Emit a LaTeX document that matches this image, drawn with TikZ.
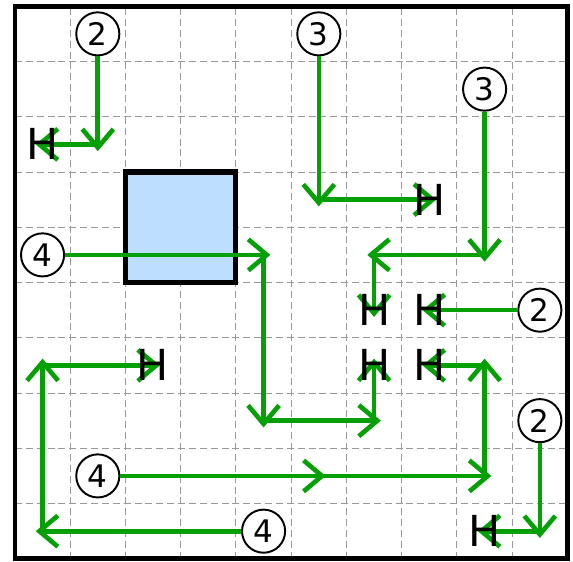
\documentclass[tikz,border=0pt]{standalone}
\usepackage{fontspec}
\setmainfont{DejaVu Sans}
\usetikzlibrary{arrows.meta}
\definecolor{pathgreen}{RGB}{5,160,5}
\definecolor{boxblue}{RGB}{190,222,255}
\begin{document}
\begin{tikzpicture}[x=1cm,y=1cm,
  gridline/.style={gray!80, line width=0.5pt, dash pattern=on 3.6pt off 2pt},
  flow/.style={pathgreen, line width=2.4pt, -{Straight Barb[length=9.5pt,width=16pt]}, shorten >=-3.5pt},
  numcirc/.style={circle, draw=black, fill=white, line width=1pt, minimum size=0.78cm, inner sep=0pt, font=\fontsize{16}{16}\selectfont},
  stopper/.style={inner sep=0pt, font=\fontsize{22}{22}\selectfont, text=black},
  frame/.style={draw=black, line width=2.4pt},
  block/.style={draw=black, fill=boxblue, line width=2.6pt}]
\useasboundingbox (-0.27,-0.04) rectangle (10.10,10.113);
% grid
\draw[gridline] (0,0) grid (10,10);
% blue block
\path[block] (2,5) rectangle (4,7);
% frame
\path[frame] (0,0) rectangle (10,10);

% corner coordinates
\coordinate (a1) at (1.5,7.5);
\coordinate (b1) at (5.5,6.5);
\coordinate (d1) at (8.5,5.5);
\coordinate (d2) at (6.5,5.5);
\coordinate (e1) at (4.5,5.5);
\coordinate (e2) at (4.5,2.5);
\coordinate (e3) at (6.5,2.5);
\coordinate (f1) at (5.5,1.5);
\coordinate (f2) at (8.5,1.5);
\coordinate (f3) at (8.5,3.5);
\coordinate (g1) at (0.5,0.5);
\coordinate (g2) at (0.5,3.5);
\coordinate (k1) at (9.5,0.5);

% stopper positions
\coordinate (h1) at (0.5,7.5);
\coordinate (h2) at (7.5,6.5);
\coordinate (h3) at (6.5,4.5);
\coordinate (h4) at (7.5,4.5);
\coordinate (h5) at (2.5,3.5);
\coordinate (h6) at (6.5,3.5);
\coordinate (h7) at (7.5,3.5);
\coordinate (h8) at (8.5,0.5);

% numbered circles
\node[numcirc] (c1) at (1.5,9.5) {2};
\node[numcirc] (c2) at (5.5,9.5) {3};
\node[numcirc] (c3) at (8.5,8.5) {3};
\node[numcirc] (c4) at (0.5,5.5) {4};
\node[numcirc] (c5) at (9.5,4.5) {2};
\node[numcirc] (c6) at (9.5,2.5) {2};
\node[numcirc] (c7) at (1.5,1.5) {4};
\node[numcirc] (c8) at (4.5,0.5) {4};

% paths
\draw[flow] (c1) -- (a1);
\draw[flow] (a1) -- (h1);

\draw[flow] (c2) -- (b1);
\draw[flow] (b1) -- (h2);

\draw[flow] (c3) -- (d1);
\draw[flow] (d1) -- (d2);
\draw[flow] (d2) -- (h3);

\draw[flow] (c5) -- (h4);

\draw[flow] (c4) -- (e1);
\draw[flow] (e1) -- (e2);
\draw[flow] (e2) -- (e3);
\draw[flow] (e3) -- (h6);

\draw[flow] (c7) -- (f1);
\draw[flow] (f1) -- (f2);
\draw[flow] (f2) -- (f3);
\draw[flow] (f3) -- (h7);

\draw[flow] (c8) -- (g1);
\draw[flow] (g1) -- (g2);
\draw[flow] (g2) -- (h5);

\draw[flow] (c6) -- (k1);
\draw[flow] (k1) -- (h8);

% stoppers
\node[stopper] (s1) at (h1) {H};
\node[stopper] (s2) at (h2) {H};
\node[stopper] (s3) at (h3) {H};
\node[stopper] (s4) at (h4) {H};
\node[stopper] (s5) at (h5) {H};
\node[stopper] (s6) at (h6) {H};
\node[stopper] (s7) at (h7) {H};
\node[stopper] (s8) at (h8) {H};
\end{tikzpicture}
\end{document}
